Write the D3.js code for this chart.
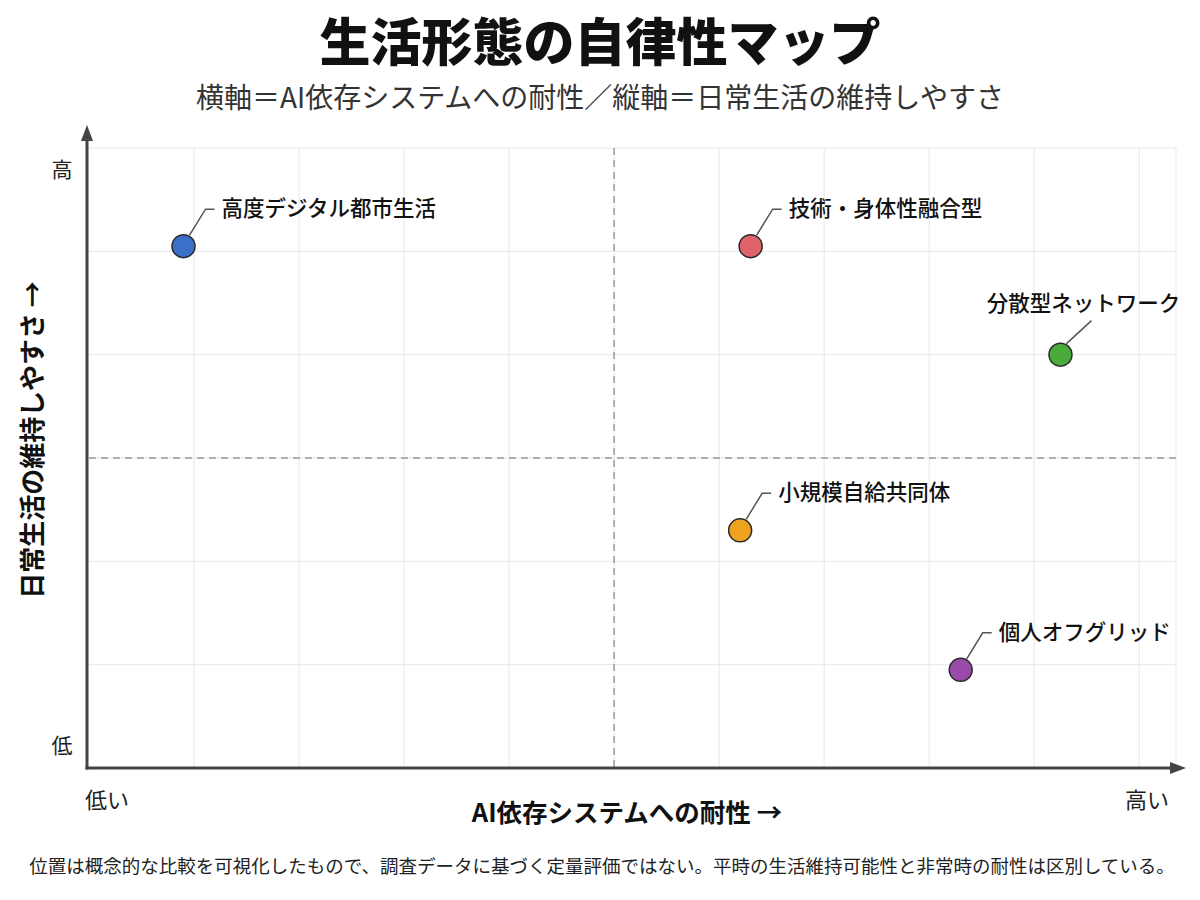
<!DOCTYPE html>
<html>
<head>
<meta charset="utf-8">
<script src="https://cdn.jsdelivr.net/npm/d3@7"></script>
<style>
  body { margin: 0; background: #fff; }
  svg text { font-family: "Noto Sans CJK JP", "Noto Sans", sans-serif; }
</style>
</head>
<body>
<div id="chart"></div>
<script>
var names = ["高度デジタル都市生活", "技術・身体性融合型", "分散型ネットワーク", "小規模自給共同体", "個人オフグリッド"];
var resilience = [0.9, 6.3, 9.25, 6.2, 8.3];      // 横軸: AI依存システムへの耐性
var sustain = [5.05, 5.05, 4.0, 2.3, 0.95];       // 縦軸: 日常生活の維持しやすさ
var colors = ["#3b6fc9", "#e0636b", "#4aab3c", "#eea21f", "#9a4aa7"];
var labelSide = ["right", "right", "above", "right", "right"];
var xEnds = ["低い", "高い"];
var yEnds = ["低", "高"];

var width = 1200, height = 900;
var margin = {top: 148, right: 24, bottom: 132, left: 89};

var svg = d3.select("#chart").append("svg")
    .attr("width", width)
    .attr("height", height);

var x = d3.scaleLinear()
    .domain([0, 10.35])
    .range([margin.left, width - margin.right]);

var y = d3.scaleLinear()
    .domain([0, 6])
    .range([height - margin.bottom, margin.top]);

var xMid = 5, yMid = 3;

// grid
var grid = svg.append("g");
grid.selectAll("line.gx")
    .data(d3.range(1, 11))
    .enter().append("line")
    .attr("class", "gx")
    .attr("x1", function(d){ return x(d); })
    .attr("x2", function(d){ return x(d); })
    .attr("y1", y(0))
    .attr("y2", y(6))
    .attr("stroke", "#e8e8e8")
    .attr("stroke-width", 1);

grid.selectAll("line.gy")
    .data(d3.range(1, 7))
    .enter().append("line")
    .attr("class", "gy")
    .attr("x1", x(0))
    .attr("x2", x(10.35))
    .attr("y1", function(d){ return y(d); })
    .attr("y2", function(d){ return y(d); })
    .attr("stroke", "#e8e8e8")
    .attr("stroke-width", 1);

grid.append("line")
    .attr("x1", x(10.35)).attr("x2", x(10.35))
    .attr("y1", y(0)).attr("y2", y(6))
    .attr("stroke", "#e8e8e8");

// quadrant dividers
svg.append("line")
    .attr("x1", x(xMid)).attr("x2", x(xMid))
    .attr("y1", y(6)).attr("y2", y(0))
    .attr("stroke", "#9a9a9a")
    .attr("stroke-width", 1.5)
    .attr("stroke-dasharray", "7,5");

svg.append("line")
    .attr("x1", x(0)).attr("x2", x(10.35))
    .attr("y1", y(yMid)).attr("y2", y(yMid))
    .attr("stroke", "#9a9a9a")
    .attr("stroke-width", 1.5)
    .attr("stroke-dasharray", "7,5");

// axes with arrows
var axisColor = "#444";
var x0 = x(0) - 2, y0 = y(0);
svg.append("line")
    .attr("x1", x0).attr("x2", x0)
    .attr("y1", y0 + 1.5).attr("y2", 136)
    .attr("stroke", axisColor)
    .attr("stroke-width", 3);
svg.append("path")
    .attr("d", "M" + x0 + ",125 L" + (x0 - 6) + ",141 L" + (x0 + 6) + ",141 Z")
    .attr("fill", axisColor);

svg.append("line")
    .attr("x1", x0 - 1.5).attr("x2", 1174)
    .attr("y1", y0).attr("y2", y0)
    .attr("stroke", axisColor)
    .attr("stroke-width", 3);
svg.append("path")
    .attr("d", "M1186," + y0 + " L1170," + (y0 - 6) + " L1170," + (y0 + 6) + " Z")
    .attr("fill", axisColor);

// end labels
svg.append("text")
    .attr("x", 85).attr("y", 808)
    .attr("font-size", 22)
    .attr("fill", "#222")
    .text(xEnds[0]);
svg.append("text")
    .attr("x", 1169).attr("y", 808)
    .attr("text-anchor", "end")
    .attr("font-size", 22)
    .attr("fill", "#222")
    .text(xEnds[1]);
svg.append("text")
    .attr("x", 62).attr("y", 753)
    .attr("text-anchor", "middle")
    .attr("font-size", 21)
    .attr("fill", "#222")
    .text(yEnds[0]);
svg.append("text")
    .attr("x", 62).attr("y", 177)
    .attr("text-anchor", "middle")
    .attr("font-size", 21)
    .attr("fill", "#222")
    .text(yEnds[1]);

// axis titles
svg.append("text")
    .attr("x", 627).attr("y", 822)
    .attr("text-anchor", "middle")
    .attr("font-size", 25.5)
    .attr("font-weight", 700)
    .attr("fill", "#111")
    .text("AI依存システムへの耐性 →");

svg.append("text")
    .attr("transform", "translate(42,440) rotate(-90)")
    .attr("text-anchor", "middle")
    .attr("font-size", 26)
    .attr("font-weight", 700)
    .attr("fill", "#111")
    .text("日常生活の維持しやすさ →");

// titles
svg.append("text")
    .attr("x", 600).attr("y", 61)
    .attr("text-anchor", "middle")
    .attr("font-size", 51)
    .attr("font-weight", 900)
    .attr("fill", "#111")
    .text("生活形態の自律性マップ");

svg.append("text")
    .attr("x", 600).attr("y", 108)
    .attr("text-anchor", "middle")
    .attr("font-size", 28)
    .attr("fill", "#333")
    .text("横軸＝AI依存システムへの耐性／縦軸＝日常生活の維持しやすさ");

svg.append("text")
    .attr("x", 602).attr("y", 873)
    .attr("text-anchor", "middle")
    .attr("font-size", 18.5)
    .attr("fill", "#222")
    .text("位置は概念的な比較を可視化したもので、調査データに基づく定量評価ではない。平時の生活維持可能性と非常時の耐性は区別している。");

// points with leader lines
var pts = names.map(function(n, i){
    return {name: n, x: resilience[i], y: sustain[i], color: colors[i], side: labelSide[i]};
});

var g = svg.append("g").selectAll("g")
    .data(pts)
    .enter().append("g")
    .attr("transform", function(d){ return "translate(" + x(d.x) + "," + y(d.y) + ")"; });

g.append("path")
    .attr("d", function(d){
        if (d.side == "above") return "M6,-11 L31,-34";
        return "M6,-11 L22,-37 L31,-37";
    })
    .attr("fill", "none")
    .attr("stroke", "#555")
    .attr("stroke-width", 1.5);

g.append("circle")
    .attr("r", 11.5)
    .attr("fill", function(d){ return d.color; })
    .attr("stroke", "#2a2a2a")
    .attr("stroke-width", 1.5);

g.append("text")
    .attr("x", function(d){ return d.side == "above" ? 23 : 38; })
    .attr("y", function(d){ return d.side == "above" ? -44 : -30; })
    .attr("text-anchor", function(d){ return d.side == "above" ? "middle" : "start"; })
    .attr("font-size", 21.5)
    .attr("font-weight", 500)
    .attr("fill", "#111")
    .text(function(d){ return d.name; });
</script>
</body>
</html>
